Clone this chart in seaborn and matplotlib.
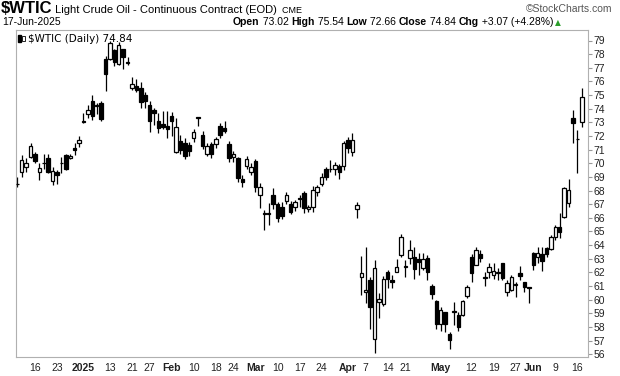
import numpy as np
import pandas as pd
import seaborn as sns
import matplotlib.pyplot as plt
from matplotlib.patches import Rectangle

# trading days shown on the chart
holidays = ["2024-12-25", "2025-01-01", "2025-01-09", "2025-01-20",
            "2025-02-17", "2025-04-18", "2025-05-26"]
dates = pd.bdate_range("2024-12-10", "2025-06-17", freq="C", holidays=holidays)

opens = [68.45, 69.38, 69.75, 70.48, 70.65, 69.38, 70.00, 70.36, 68.72, 69.38,
         70.00, 70.60, 70.41, 71.12, 71.50, 73.10, 73.58, 74.56, 74.20, 74.45,
         77.65, 77.62, 78.30, 77.25, 78.37, 77.35, 75.54, 75.66, 75.54, 75.00,
         74.27, 73.90, 73.10, 72.85, 72.73, 73.46, 70.80, 71.63, 71.46, 71.33,
         71.87, 73.36, 72.07, 70.65, 71.38, 71.43, 72.73, 72.61, 71.41, 70.48,
         70.36, 68.82, 69.82, 69.38, 70.16, 67.69, 66.33, 66.30, 67.67, 67.01,
         66.77, 67.25, 67.01, 66.77, 67.43, 67.84, 66.62, 66.77, 67.86, 68.48,
         69.55, 69.55, 69.55, 69.80, 69.80, 71.70, 70.85, 66.62, 61.68, 60.53,
         61.44, 57.09, 59.85, 59.68, 62.00, 61.44, 62.00, 63.27, 62.40, 63.03,
         63.10, 62.95, 62.29, 63.03, 61.00, 59.90, 58.19, 59.07, 57.45, 59.10,
         58.87, 58.87, 60.29, 63.15, 62.54, 63.32, 61.60, 62.05, 61.78, 61.98,
         62.66, 60.58, 60.70, 61.10, 61.93, 61.27, 60.88, 63.39, 63.15, 63.34,
         63.76, 63.69, 64.61, 65.35, 66.08, 67.06, 73.29, 71.80, 73.02]
highs = [69.00, 70.60, 70.36, 71.45, 70.85, 69.99, 70.70, 70.70, 69.75, 69.50,
         70.48, 70.70, 70.70, 71.50, 72.00, 73.66, 74.27, 75.00, 74.40, 74.55,
         77.90, 78.95, 78.40, 78.90, 78.40, 77.80, 76.30, 76.17, 75.98, 75.24,
         74.56, 74.07, 73.66, 73.83, 73.83, 73.73, 73.29, 72.07, 71.87, 71.58,
         72.51, 73.36, 72.36, 71.46, 71.58, 71.95, 72.92, 73.09, 71.63, 70.90,
         70.48, 69.14, 70.53, 69.99, 70.31, 68.52, 66.57, 67.06, 68.16, 67.18,
         67.18, 67.86, 67.25, 67.30, 67.67, 67.98, 66.94, 68.33, 68.40, 69.26,
         69.70, 70.24, 70.11, 69.94, 71.65, 71.95, 72.24, 67.18, 63.20, 63.88,
         61.68, 62.90, 60.46, 61.75, 62.17, 61.80, 62.97, 64.78, 62.90, 64.37,
         63.88, 63.39, 63.39, 63.27, 61.12, 59.95, 59.48, 59.10, 57.65, 59.80,
         59.07, 59.97, 61.07, 63.32, 63.88, 63.64, 62.05, 62.66, 62.66, 62.35,
         62.66, 61.44, 61.80, 61.27, 62.49, 61.27, 60.90, 63.51, 63.88, 63.88,
         63.88, 64.74, 65.47, 66.32, 68.28, 68.82, 73.90, 72.43, 75.54]
lows = [68.25, 69.00, 69.38, 70.36, 69.99, 68.77, 69.60, 69.26, 68.40, 68.50,
        69.26, 69.50, 70.30, 70.60, 71.20, 72.95, 73.29, 73.20, 73.60, 73.10,
        75.30, 77.60, 77.10, 77.20, 76.90, 77.20, 75.37, 75.24, 74.07, 74.02,
        72.31, 72.80, 72.19, 72.48, 71.87, 72.00, 70.72, 70.65, 70.31, 70.55,
        71.58, 72.73, 71.04, 70.55, 70.41, 71.09, 71.87, 72.19, 70.11, 70.11,
        68.65, 68.28, 69.55, 69.14, 67.91, 66.69, 65.10, 65.47, 66.62, 65.71,
        65.89, 67.01, 66.28, 66.52, 66.77, 66.37, 66.45, 66.45, 67.59, 68.33,
        68.77, 69.38, 69.14, 68.82, 69.50, 70.77, 70.53, 65.96, 60.34, 59.73,
        57.84, 56.06, 58.63, 59.55, 60.83, 60.87, 62.00, 63.15, 61.68, 62.58,
        61.51, 61.80, 62.17, 61.44, 60.04, 57.84, 57.70, 57.65, 56.38, 58.14,
        57.70, 58.80, 60.14, 61.27, 62.54, 62.73, 61.02, 61.56, 61.50, 61.45,
        61.45, 60.29, 60.63, 60.22, 61.44, 60.58, 59.73, 62.17, 62.71, 62.12,
        63.15, 63.64, 64.37, 64.49, 65.96, 66.81, 71.46, 69.31, 72.66]
closes = [68.50, 70.24, 70.04, 71.26, 70.16, 69.62, 70.05, 69.33, 69.43, 69.14,
          70.05, 69.58, 70.56, 70.95, 71.70, 73.00, 73.90, 73.50, 74.25, 73.25,
          76.52, 78.80, 77.44, 78.65, 77.81, 77.40, 75.81, 75.37, 74.51, 74.59,
          73.12, 73.70, 72.56, 72.65, 72.48, 73.12, 72.63, 70.97, 70.55, 70.90,
          72.26, 73.29, 71.29, 71.29, 70.65, 71.78, 72.07, 72.39, 70.36, 70.65,
          68.89, 68.60, 70.28, 69.70, 68.28, 68.23, 66.30, 66.35, 67.01, 65.96,
          66.13, 67.64, 66.45, 67.15, 67.35, 66.69, 66.81, 68.04, 68.23, 69.01,
          68.96, 69.58, 69.87, 69.33, 71.46, 71.09, 71.70, 66.94, 61.93, 60.70,
          59.48, 62.29, 60.04, 61.51, 61.49, 61.27, 62.41, 64.61, 62.45, 63.64,
          62.22, 62.78, 62.95, 62.00, 60.39, 58.19, 59.24, 58.19, 57.04, 59.12,
          58.02, 59.90, 60.95, 61.93, 63.64, 63.07, 61.63, 62.41, 62.10, 62.02,
          61.56, 61.19, 61.68, 61.12, 61.76, 60.90, 60.86, 62.52, 63.41, 62.85,
          63.37, 64.58, 65.29, 64.98, 68.15, 68.04, 72.98, 71.77, 74.84]

tick_dates = ["2024-12-16", "2024-12-23", "2025-01-02", "2025-01-13", "2025-01-21",
              "2025-01-27", "2025-02-03", "2025-02-10", "2025-02-18", "2025-02-24",
              "2025-03-03", "2025-03-10", "2025-03-17", "2025-03-24", "2025-04-01",
              "2025-04-07", "2025-04-14", "2025-04-21", "2025-05-01", "2025-05-12",
              "2025-05-19", "2025-05-27", "2025-06-02", "2025-06-09", "2025-06-16"]
tick_labels = ["16", "23", "2025", "13", "21", "27", "Feb", "10", "18", "24", "Mar",
               "10", "17", "24", "Apr", "7", "14", "21", "May", "12", "19", "27",
               "Jun", "9", "16"]
bold_labels = {"2025", "Feb", "Mar", "Apr", "May", "Jun"}

sns.set_style("white")
plt.rcParams['font.family'] = ['Liberation Sans', 'DejaVu Sans']

df = pd.DataFrame({"date": dates, "open": opens, "high": highs,
                   "low": lows, "close": closes})
df["x"] = np.arange(len(df))
df["bottom"] = df[["open", "close"]].min(axis=1)
df["height"] = (df["close"] - df["open"]).abs().clip(lower=0.04)
up = df["close"] >= df["open"]

fig = plt.figure(figsize=(6.2, 3.76), dpi=100)
ax = fig.add_axes([16 / 620, 1 - 357 / 376, 572 / 620, 327 / 376])

ax.vlines(df["x"], df["low"], df["high"], color="black", linewidth=0.9, zorder=2)
ax.bar(df["x"][up], df["height"][up], bottom=df["bottom"][up], width=0.78,
       color="white", edgecolor="black", linewidth=0.9, zorder=3)
ax.bar(df["x"][~up], df["height"][~up], bottom=df["bottom"][~up], width=0.78,
       color="black", edgecolor="black", linewidth=0.9, zorder=3)

ax.set_xlim(-0.3, 129.4)
ax.set_ylim(55.79, 79.77)

ax.yaxis.tick_right()
ax.set_yticks(np.arange(56, 80))
ax.set_yticklabels([str(v) for v in range(56, 80)])
ax.tick_params(axis="y", direction="out", length=3, width=0.8, pad=1,
               labelsize=7.5, colors="#999999", labelcolor="#222222")

pos = [df.index[df["date"] == pd.Timestamp(d)][0] for d in tick_dates]
ax.set_xticks(pos)
ax.set_xticklabels(tick_labels)
for lab in ax.get_xticklabels():
    lab.set_fontsize(7.5)
    lab.set_color("#222222")
    if lab.get_text() in bold_labels:
        lab.set_fontweight("bold")
ax.tick_params(axis="x", direction="out", length=2, width=0.8, pad=2,
               colors="#bbbbbb", labelcolor="#222222")

for side in ["left", "top", "right"]:
    ax.spines[side].set_color("#b0b0b0")
    ax.spines[side].set_linewidth(0.8)
ax.spines["bottom"].set_color("#b0b0b0")
ax.spines["bottom"].set_linestyle((0, (1, 1)))
ax.spines["bottom"].set_linewidth(0.8)
ax.set_xlabel("")
ax.set_ylabel("")

renderer = fig.canvas.get_renderer()


def flow(x0, y0, parts, size):
    # draw text pieces one after another on one line, x in pixels
    xpix = x0
    for txt, weight, fs, col in parts:
        t = fig.text(xpix / 620, 1 - y0 / 376, txt, fontsize=fs or size,
                     fontweight=weight, color=col)
        xpix += t.get_window_extent(renderer).width
    return xpix


# header lines
flow(1, 13, [("$WTIC", "bold", 12, "black"),
             (" Light Crude Oil - Continuous Contract (EOD)", "normal", 8, "black"),
             ("  CME", "normal", 6.5, "black")], 8)
fig.text(612 / 620, 1 - 12 / 376, "\u00a9StockCharts.com", fontsize=7.5,
         color="#555555", ha="right")
fig.text(2 / 620, 1 - 25 / 376, "17-Jun-2025", fontsize=7.5, color="black")

end = flow(233, 25, [("Open", "bold", None, "black"), (" 73.02 ", "normal", None, "black"),
                     ("High", "bold", None, "black"), (" 75.54 ", "normal", None, "black"),
                     ("Low", "bold", None, "black"), (" 72.66 ", "normal", None, "black"),
                     ("Close", "bold", None, "black"), (" 74.84 ", "normal", None, "black"),
                     ("Chg", "bold", None, "black"), (" +3.07 (+4.28%)", "normal", None, "black")],
           7.5)
fig.text((end + 2) / 620, 1 - 25 / 376, "\u25b2", fontsize=5.5, color="#2a9d2a",
         family="DejaVu Sans")

# legend inside the chart
fig.patches.append(Rectangle((18 / 620, 1 - 42 / 376), 2.5 / 620, 7 / 376,
                             transform=fig.transFigure, color="black"))
fig.patches.append(Rectangle((22 / 620, 1 - 41 / 376), 2.5 / 620, 5 / 376,
                             transform=fig.transFigure, facecolor="white",
                             edgecolor="black", linewidth=0.6))
fig.text(28 / 620, 1 - 42 / 376, "$WTIC (Daily) 74.84", fontsize=7.5,
         color="black", family="DejaVu Sans")

fig.savefig("out.png", dpi=100)
